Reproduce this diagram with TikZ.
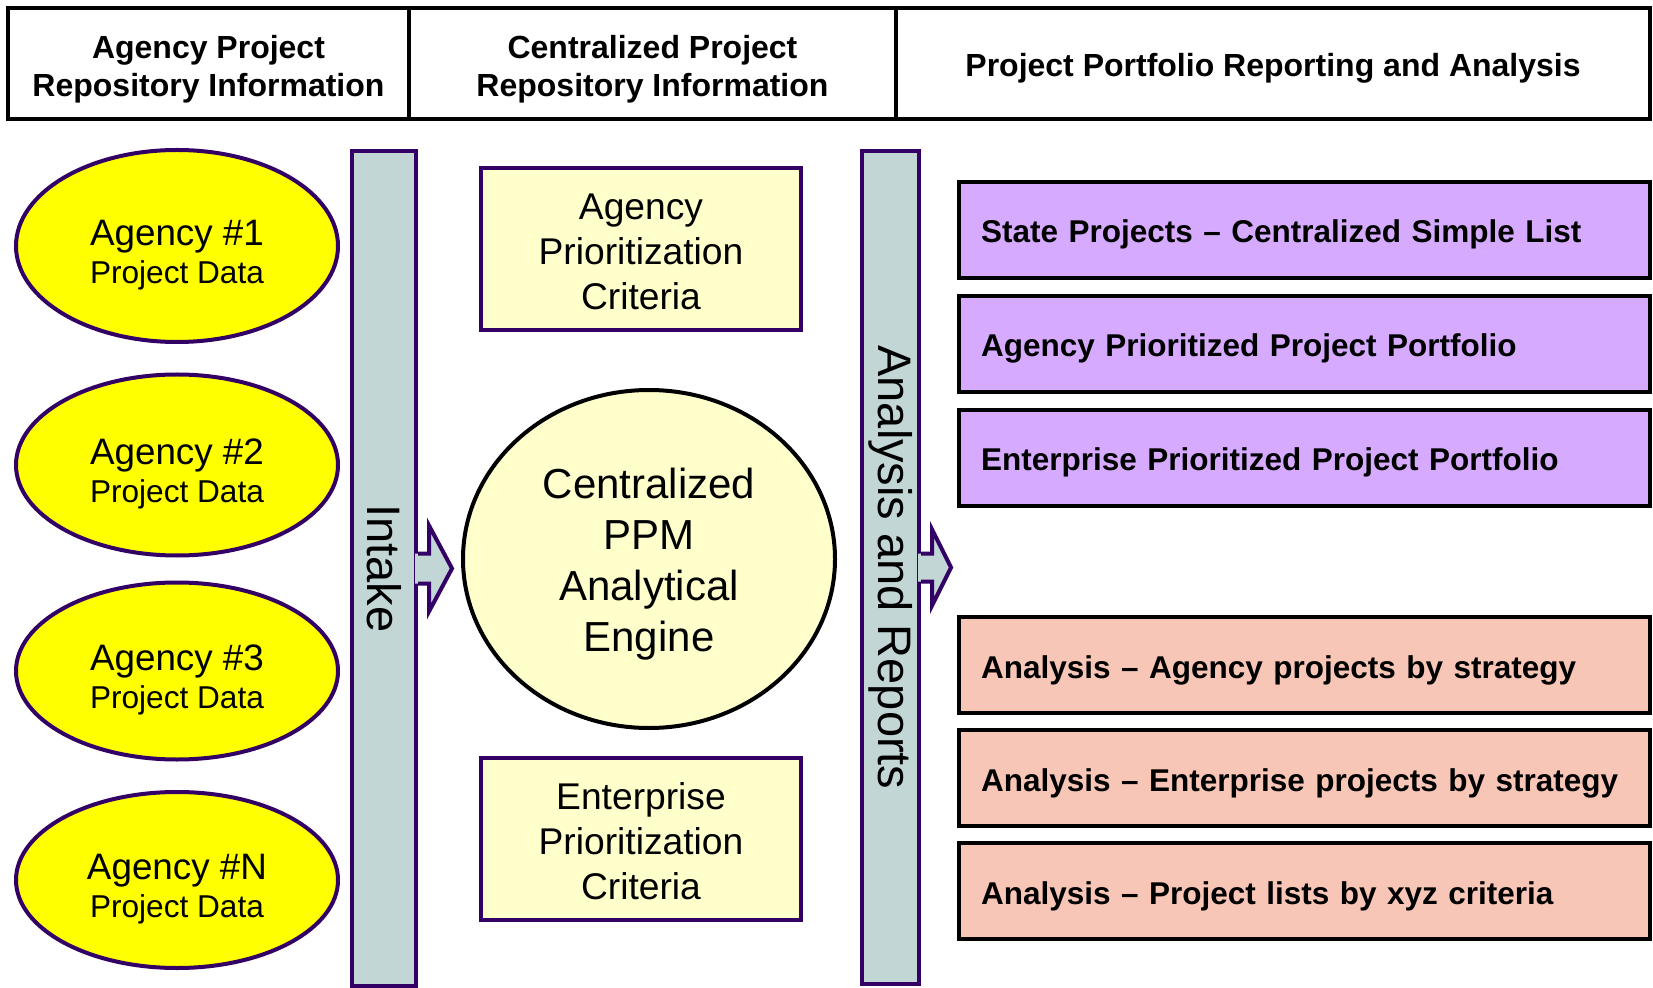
\documentclass[tikz,border=0pt]{standalone}
\usepackage{fontspec}
\setmainfont{Liberation Sans}
\usetikzlibrary{shapes.geometric, positioning}
\definecolor{ppmPurple}{RGB}{51,0,102}
\definecolor{ppmYellow}{RGB}{255,255,0}
\definecolor{ppmCream}{RGB}{255,255,204}
\definecolor{ppmBar}{RGB}{194,214,214}
\definecolor{ppmLilac}{RGB}{214,170,255}
\definecolor{ppmSalmon}{RGB}{248,198,182}

\begin{document}
\begin{tikzpicture}[x=0.5pt, y=-0.5pt,
      header/.style={draw=black, line width=2pt, minimum height=55.5pt, align=center, text height=13.5pt,
      text depth=0pt, font=\bfseries\fontsize{16}{19}\selectfont},
      agency/.style={ellipse, draw=ppmPurple, line width=2pt, fill=ppmYellow, minimum width=161pt, inner sep=0pt,
      align=center, text height=40.4pt, font=\fontsize{18.4}{19}\selectfont},
      intakebar/.style={draw=ppmPurple, line width=2pt, fill=ppmBar, rotate=-90, font=\fontsize{23.5}{28}\selectfont},
      criteria/.style={draw=ppmPurple, line width=2pt, fill=ppmCream, minimum width=160pt, minimum height=81pt,
      align=center, text height=60.6pt, font=\fontsize{18.6}{22.4}\selectfont},
      engine/.style={ellipse, draw=black, line width=2pt, fill=ppmCream, minimum width=186pt, minimum height=169pt,
      inner sep=0pt, align=center, text height=96.9pt, font=\fontsize{21}{25.5}\selectfont},
      report/.style={draw=black, line width=2pt, minimum height=48pt, text width=323.5pt, inner xsep=11pt,
      text height=13pt, text depth=0pt, align=left, font=\bfseries\fontsize{15.75}{19}\selectfont},
      outline/.style={draw=ppmPurple, line width=2pt}
    ]
    \useasboundingbox (0,0) rectangle (1653,988);

    \node[header, minimum width=200.5pt, text height=33.5pt] (agencyhead) at (208.5,63.5) {Agency Project\\Repository Information};
    \node[header, minimum width=243.5pt, text height=33.5pt] (centralhead) at (652.5,63.5) {Centralized Project\\Repository Information};
    \node[header, minimum width=377pt] (reporthead) at (1273,63.5) {Project Portfolio Reporting and Analysis};

    \node[agency, minimum height=96pt] (agency1) at (177,246) {Agency \#1\\{\fontsize{15.8}{19}\selectfont Project Data}};
    \node[agency, minimum height=90.5pt] (agency2) at (177,465) {Agency \#2\\{\fontsize{15.8}{19}\selectfont Project Data}};
    \node[agency, minimum height=88.5pt] (agency3) at (177,671) {Agency \#3\\{\fontsize{15.8}{19}\selectfont Project Data}};
    \node[agency, minimum height=88pt] (agencyN) at (177,880) {Agency \#N\\{\fontsize{15.8}{19}\selectfont Project Data}};

    \node[intakebar, minimum width=417.5pt, minimum height=32pt] (intake) at (384,568.5) {Intake};
    \node[intakebar, minimum width=416.5pt, minimum height=26.5pt] (reports) at (890.5,567.5) {Analysis and Reports};

    \begin{scope}[shift={(intake.north)}]
      \fill[ppmBar] (-3,-15) -- (11,-15) -- (11,-43) -- (34,0) -- (11,43) -- (11,15) -- (-3,15) -- cycle;
      \draw[outline] (0,-15) -- (11,-15) -- (11,-43) -- (34,0) -- (11,43) -- (11,15) -- (0,15);
    \end{scope}
    \begin{scope}[shift={(reports.north)}]
      \fill[ppmBar] (-3,-14) -- (11,-14) -- (11,-38) -- (30,0) -- (11,38) -- (11,14) -- (-3,14) -- cycle;
      \draw[outline] (0,-14) -- (11,-14) -- (11,-38) -- (30,0) -- (11,38) -- (11,14) -- (0,14);
    \end{scope}

    \node[criteria] (agencycrit) at (641,249) {Agency\\Prioritization\\Criteria};
    \node[engine] (ppmengine) at (649,559) {Centralized\\PPM\\Analytical\\Engine};
    \node[criteria] (enterprisecrit) at (641,839) {Enterprise\\Prioritization\\Criteria};

    \node[report, fill=ppmLilac] (statelist) at (1304.5,230) {State Projects -- Centralized Simple List};
    \node[report, fill=ppmLilac, below=7pt of statelist] (agencyportfolio) {Agency Prioritized Project Portfolio};
    \node[report, fill=ppmLilac, below=7pt of agencyportfolio] (enterpriseportfolio) {Enterprise Prioritized Project Portfolio};
    \node[report, fill=ppmSalmon] (agencystrategy) at (1304.5,665) {Analysis -- Agency projects by strategy};
    \node[report, fill=ppmSalmon, below=6.5pt of agencystrategy] (enterprisestrategy) {Analysis -- Enterprise projects by strategy};
    \node[report, fill=ppmSalmon, below=6.5pt of enterprisestrategy] (xyzlists) {Analysis -- Project lists by xyz criteria};
  \end{tikzpicture}
\end{document}
